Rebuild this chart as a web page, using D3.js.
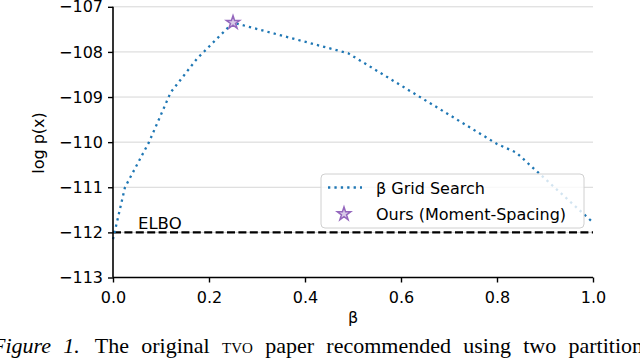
<!DOCTYPE html>
<html>
<head>
<meta charset="utf-8">
<script src="https://cdn.jsdelivr.net/npm/d3@7"></script>
<style>
  body { margin: 0; background: #fff; }
  svg { display: block; }
  .tick text { font-family: "DejaVu Sans", sans-serif; font-size: 16px; fill: #000; }
</style>
</head>
<body>
<div id="chart"></div>
<script>
// grid search over beta
const betaGrid = [0, 0.025, 0.075, 0.12, 0.175, 0.25, 0.49, 0.8, 0.84, 1.0]
const logpGrid = [-112.15, -111.0, -110.0, -108.9, -108.15, -107.35, -108.03, -110.04, -110.23, -111.78]
// our point
const oursBeta = [0.25]
const oursLogp = [-107.35]
const elboValue = -112
const xTicks = [0, 0.2, 0.4, 0.6, 0.8, 1.0]
const yTicks = [-113, -112, -111, -110, -109, -108, -107]

const W = 640, H = 364
const plotLeft = 113, plotRight = 593, plotTop = 6.8, plotBottom = 277.5

const svg = d3.select('#chart').append('svg')
    .attr('width', W)
    .attr('height', H)

const xScale = d3.scaleLinear().domain([0, 1]).range([plotLeft, plotRight])
const yScale = d3.scaleLinear().domain([-113, -107]).range([plotBottom, plotTop])

// horizontal grid
svg.append('g')
    .selectAll('line')
    .data(yTicks.slice(1))
    .enter().append('line')
    .attr('x1', plotLeft).attr('x2', plotRight)
    .attr('y1', d => yScale(d)).attr('y2', d => yScale(d))
    .attr('stroke', '#d6d6d6')
    .attr('stroke-width', 1)

// ELBO
svg.append('line')
    .attr('x1', xScale(0)).attr('x2', xScale(1))
    .attr('y1', yScale(elboValue)).attr('y2', yScale(elboValue))
    .attr('stroke', '#000')
    .attr('stroke-width', 2.2)
    .attr('stroke-dasharray', '8,3.4')
svg.append('text')
    .attr('x', 138)
    .attr('y', 229)
    .style('font-family', '"DejaVu Sans", sans-serif')
    .style('font-size', '16.5px')
    .text('ELBO')

// grid search line
const pts = betaGrid.map((b, i) => ({ b: b, v: logpGrid[i] }))
const line = d3.line()
    .x(d => xScale(d.b))
    .y(d => yScale(d.v))
svg.append('path')
    .datum(pts)
    .attr('d', line)
    .attr('fill', 'none')
    .attr('stroke', '#1f77b4')
    .attr('stroke-width', 2.3)
    .attr('stroke-dasharray', '2.3,4.1')

// star
const star = d3.symbol().type(d3.symbolStar).size(55)
svg.append('g')
    .selectAll('path')
    .data(oursBeta.map((b, i) => ({ b: b, v: oursLogp[i] })))
    .enter().append('path')
    .attr('d', star)
    .attr('transform', d => `translate(${xScale(d.b)},${yScale(d.v)})`)
    .attr('fill', '#d9cbe8')
    .attr('stroke', '#9467bd')
    .attr('stroke-width', 1.5)

// axes
const xaxis = d3.axisBottom(xScale).tickValues(xTicks).tickFormat(d3.format('.1f')).tickSize(5).tickPadding(9)
const yaxis = d3.axisLeft(yScale).tickValues(yTicks).tickFormat(d => d3.format('d')(d).replace('-', '\u2212')).tickSize(5).tickPadding(5)
const gx = svg.append('g')
    .attr('transform', `translate(0,${plotBottom})`)
    .call(xaxis)
const gy = svg.append('g')
    .attr('transform', `translate(${plotLeft},0)`)
    .call(yaxis)
gx.select('.domain').attr('d', `M${plotLeft},0H${plotRight}`).attr('stroke-width', 1.6)
gy.select('.domain').attr('d', `M0,${plotBottom}V${plotTop}`).attr('stroke-width', 1.6)
svg.selectAll('.tick line').attr('stroke-width', 1.4)

// axis labels
svg.append('text')
    .attr('transform', 'translate(43.5,143) rotate(-90)')
    .style('text-anchor', 'middle')
    .style('font-family', '"DejaVu Sans", sans-serif')
    .style('font-size', '16px')
    .text('log p(x)')
svg.append('text')
    .attr('x', 353)
    .attr('y', 323)
    .style('text-anchor', 'middle')
    .style('font-family', '"DejaVu Sans", sans-serif')
    .style('font-size', '16px')
    .text('\u03b2')

// legend
const lg = svg.append('g')
lg.append('rect')
    .attr('x', 321).attr('y', 174)
    .attr('width', 263).attr('height', 54)
    .attr('rx', 4)
    .attr('fill', 'rgba(255,255,255,0.8)')
    .attr('stroke', '#d0d0d0')
    .attr('stroke-width', 1)
lg.append('line')
    .attr('x1', 328).attr('x2', 362)
    .attr('y1', 187.5).attr('y2', 187.5)
    .attr('stroke', '#1f77b4')
    .attr('stroke-width', 2.3)
    .attr('stroke-dasharray', '2.3,4.1')
lg.append('path')
    .attr('d', star)
    .attr('transform', 'translate(344,214)')
    .attr('fill', '#d9cbe8')
    .attr('stroke', '#9467bd')
    .attr('stroke-width', 1.5)
lg.append('text')
    .attr('x', 376).attr('y', 193.5)
    .style('font-family', '"DejaVu Sans", sans-serif')
    .style('font-size', '16px')
    .text('\u03b2 Grid Search')
lg.append('text')
    .attr('x', 376).attr('y', 220)
    .style('font-family', '"DejaVu Sans", sans-serif')
    .style('font-size', '16px')
    .text('Ours (Moment-Spacing)')

// caption (justified in the paper, so wide word gaps)
const cap = svg.append('text')
    .attr('x', -8).attr('y', 353)
    .style('font-family', '"Liberation Serif", serif')
    .style('font-size', '22px')
    .style('word-spacing', '6.8px')
cap.append('tspan').style('font-style', 'italic').text('Figure 1.')
cap.append('tspan').attr('dx', 3).text(' The original ')
cap.append('tspan').style('font-variant', 'small-caps').text('tvo')
cap.append('tspan').text(' paper recommended using two partitions')
</script>
</body>
</html>
